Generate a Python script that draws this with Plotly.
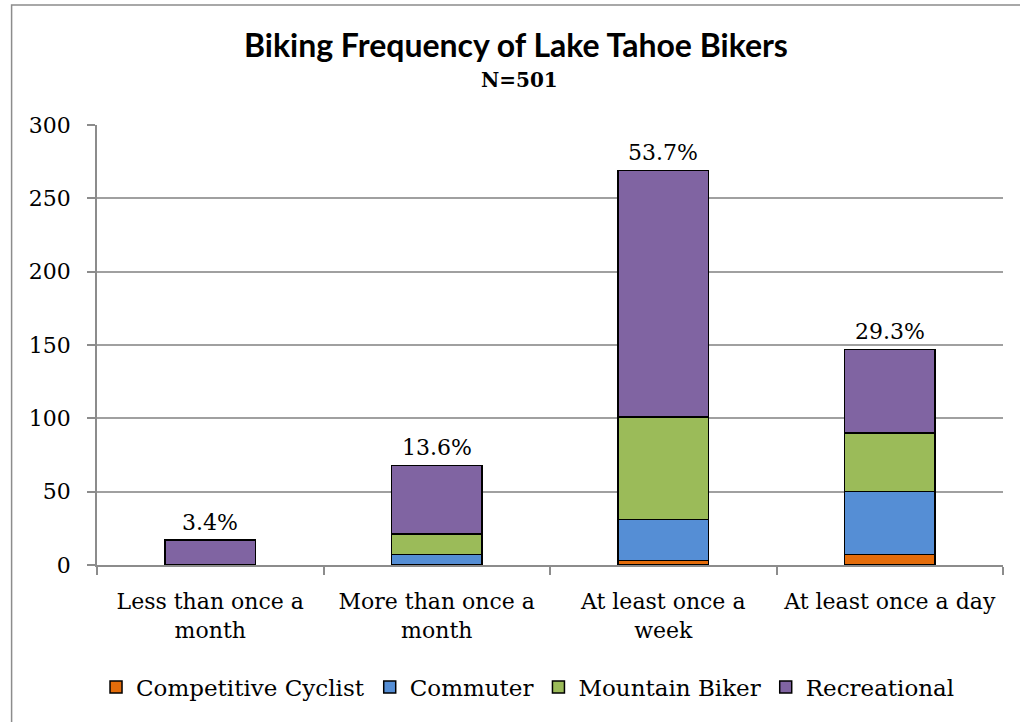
import plotly.graph_objects as go

categories = ["Less than once a<br>month", "More than once a<br>month", "At least once a<br>week", "At least once a day"]
competitive = [0, 0, 3, 7]
commuter = [0, 7, 28, 43]
mountain = [0, 14, 70, 40]
recreational = [17, 47, 168, 57]
n_total = 501
y_ticks = [0, 50, 100, 150, 200, 250, 300]

series = [
    ("Competitive Cyclist", competitive, "#E46C0A"),
    ("Commuter", commuter, "#558ED5"),
    ("Mountain Biker", mountain, "#9BBB59"),
    ("Recreational", recreational, "#8064A2"),
]

serif = "DejaVu Serif"

# absolute px -> paper coords of the plot area
PX0, PY0, PW, PH = 96.5, 565.0, 907.0, 440.0
def px(x):
    return (x - PX0) / PW
def py(y):
    return (PY0 - y) / PH

fig = go.Figure()
for name, vals, col in series:
    fig.add_trace(go.Bar(
        x=categories, y=vals, name=name,
        marker=dict(color=col, line=dict(color="black", width=1.5)),
    ))

totals = [a + b + c + d for a, b, c, d in zip(competitive, commuter, mountain, recreational)]
for cat, tot in zip(categories, totals):
    fig.add_annotation(
        x=cat, y=tot, text=f"{tot / n_total * 100:.1f}%",
        showarrow=False, yanchor="bottom", yshift=3,
        font=dict(family=serif, size=22, color="black"),
    )

# titles
fig.add_annotation(xref="paper", yref="paper", x=px(516), y=py(44), xanchor="center", yanchor="middle",
                   text="<b>Biking Frequency of Lake Tahoe Bikers</b>", showarrow=False,
                   font=dict(family="Lato", size=32, color="black"))
fig.add_annotation(xref="paper", yref="paper", x=px(519), y=py(80), xanchor="center", yanchor="middle",
                   text="<b>N=501</b>", showarrow=False,
                   font=dict(family=serif, size=20, color="black"))

# outer chart border
fig.add_shape(type="rect", xref="paper", yref="paper",
              x0=px(11), x1=px(1040), y0=py(760), y1=py(5),
              line=dict(color="#8c8c8c", width=1.5), fillcolor="rgba(0,0,0,0)", layer="below")

fig.update_layout(
    barmode="stack",
    bargap=0.6,
    width=1020, height=722,
    margin=dict(l=96.5, r=16.5, t=125, b=157, autoexpand=False),
    paper_bgcolor="white", plot_bgcolor="white",
    showlegend=True,
    legend=dict(
        orientation="h", x=px(528), xanchor="center", y=py(687), yanchor="middle",
        font=dict(family=serif, size=23, color="black"),
        traceorder="normal", itemwidth=30, bgcolor="rgba(0,0,0,0)",
    ),
    font=dict(family=serif, color="black"),
)

fig.update_xaxes(
    showline=True, linecolor="#8c8c8c", linewidth=1.5,
    ticks="outside", tickson="boundaries", ticklen=8, tickcolor="#8c8c8c", tickwidth=1.5,
    tickfont=dict(family=serif, size=22, color="black"),
    ticklabelstandoff=16,
    showgrid=False,
)
fig.update_yaxes(
    range=[0, 300], tickvals=y_ticks,
    showline=True, linecolor="#8c8c8c", linewidth=1.5,
    ticks="outside", ticklen=8, tickcolor="#8c8c8c", tickwidth=1.5,
    showgrid=True, gridcolor="#a0a0a0", gridwidth=1.5,
    tickfont=dict(family=serif, size=22, color="black"),
    ticklabelstandoff=12,
    zeroline=False,
)

fig.write_html("out.html", config={"displayModeBar": False},
               post_script="document.body.style.margin='0';document.body.style.overflow='hidden';")
